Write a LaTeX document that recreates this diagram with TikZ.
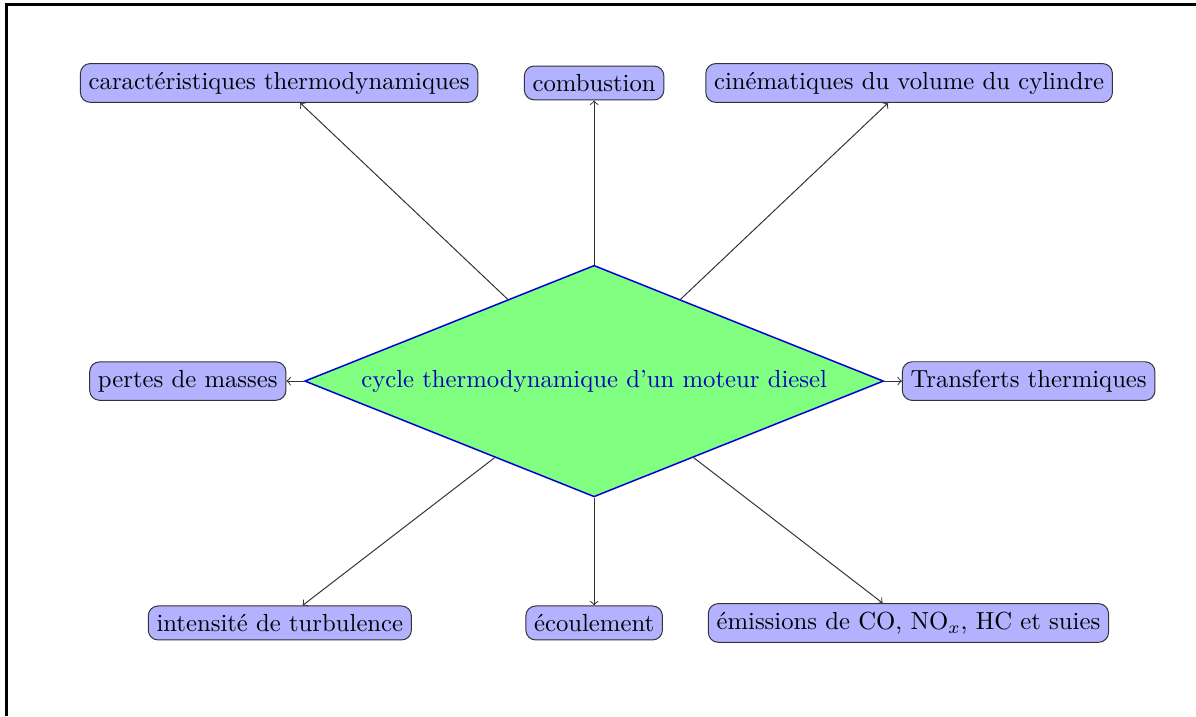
\documentclass[tikz,border=0pt]{standalone}
\usepackage{tikz}
\usetikzlibrary{positioning,shapes.geometric}

\begin{document}
\begin{tikzpicture}[
      cyclebox/.style={diamond,aspect=2.5,draw=blue!85!black,semithick,
                   fill=green!50,text=blue!75!black},
      infobox/.style={draw=black!80,rounded corners,fill=blue!30},
      arrow/.style={->,black!80}
    ]
    \useasboundingbox (-8.45,-4.77) rectangle (8.56,5.42);
    \draw[line width=1.2pt] (-8.36,-4.77) -- (-8.36,5.35) -- (8.56,5.35);
    \node[cyclebox] (cycle) at (0,0) {cycle thermodynamique d'un moteur diesel};
    \node[infobox] (thermo) at (-4.48,4.24) {caractéristiques thermodynamiques};
    \node[infobox] (combust) at (0,4.24) {combustion};
    \node[infobox] (cinema) at (4.48,4.24) {cinématiques du volume du cylindre};
    \node[infobox,left=0.25cm of cycle] (pertes) {pertes de masses};
    \node[infobox,right=0.25cm of cycle] (transf) {Transferts thermiques};
    \node[infobox] (turbul) at (-4.47,-3.44) {intensité de turbulence};
    \node[infobox] (ecoul) at (0,-3.44) {écoulement};
    \node[infobox] (emiss) at (4.47,-3.44) {émissions de CO, NO$_x$, HC et suies};
    \draw[arrow] (cycle) -- (thermo);
    \draw[arrow] (cycle) -- (combust);
    \draw[arrow] (cycle) -- (cinema);
    \draw[arrow] (cycle) -- (pertes);
    \draw[arrow] (cycle) -- (transf);
    \draw[arrow] (cycle) -- (turbul);
    \draw[arrow] (cycle) -- (ecoul);
    \draw[arrow] (cycle) -- (emiss);
  \end{tikzpicture}
\end{document}
